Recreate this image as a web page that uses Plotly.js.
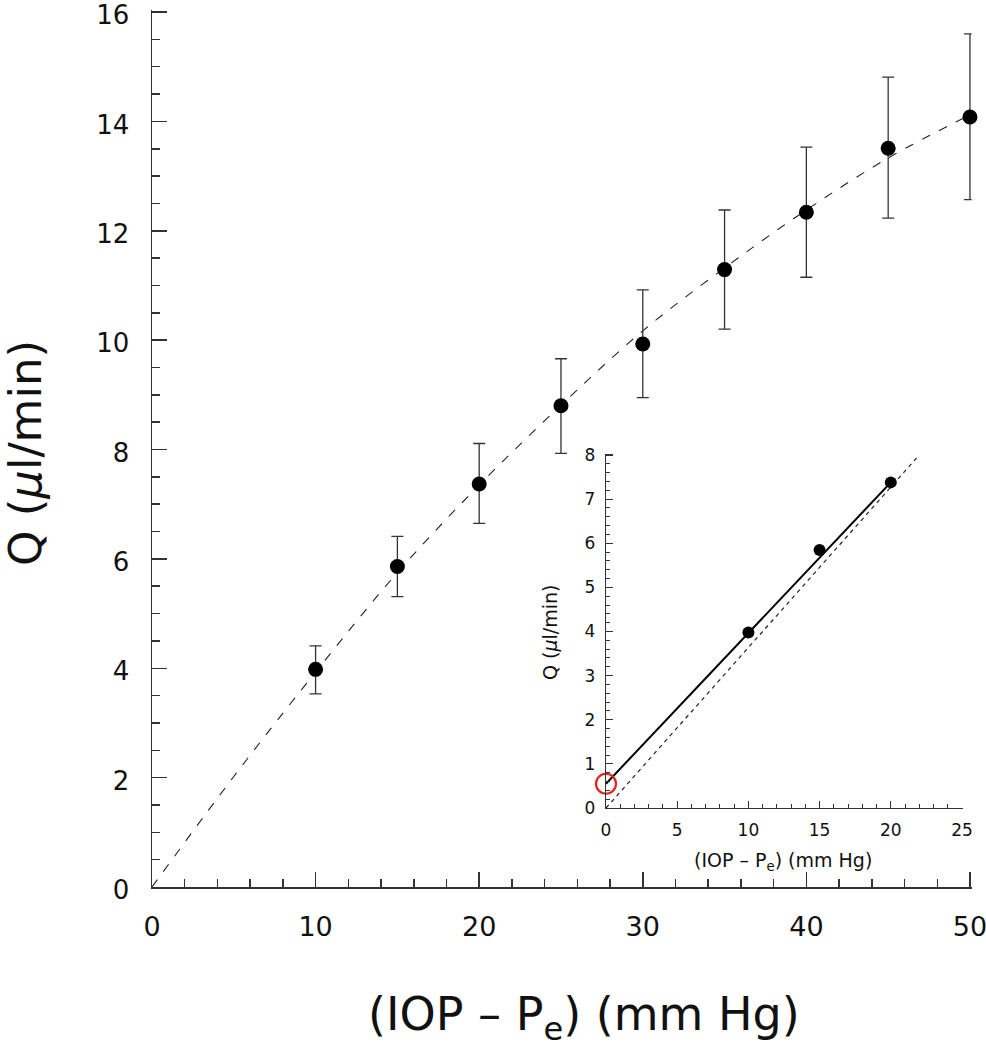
<!DOCTYPE html>
<html><head><meta charset="utf-8">
<script src="https://cdn.plot.ly/plotly-3.0.1.min.js"></script>
<style>html,body{margin:0;padding:0;background:#fff}</style>
</head><body><div id="chart" style="width:986px;height:1050px"></div>
<script>
// Main panel data
const pressure = [10, 15, 20, 25, 30, 35, 40, 45, 50];
const flow = [3.98, 5.86, 7.37, 8.80, 9.93, 11.29, 12.34, 13.51, 14.08];
const errUpper = [4.41, 6.41, 8.11, 9.66, 10.92, 12.38, 13.53, 14.81, 15.60];
const errLower = [3.53, 5.31, 6.65, 7.93, 8.95, 10.20, 11.15, 12.23, 12.57];
const fitX = [0, 5, 10, 15, 20, 25, 30, 35, 40, 45, 50];
const fitY = [0, 2.02, 3.93, 5.75, 7.35, 8.81, 10.17, 11.32, 12.38, 13.33, 14.12];
// Inset data
const insetX = [10, 15, 20];
const insetY = [3.98, 5.85, 7.38];
const linearFitX = [0, 20];
const linearFitY = [0.55, 7.38];
const proportionalX = [0, 22];
const proportionalY = [0, 8.0];
const interceptX = [0];
const interceptY = [0.55];

const W = 986, H = 1050;
const px = v => v / W;
const py = v => 1 - v / H;
const FONT = 'DejaVu Sans, sans-serif';
const AX = '#333';
const TXT = '#111';

const traces = [
  {x: fitX, y: fitY, mode: 'lines', line: {color: '#222', width: 1.1, dash: '9px,10px', shape: 'spline'},
   xaxis: 'x', yaxis: 'y', hoverinfo: 'skip', cliponaxis: false},
  {x: pressure, y: flow, mode: 'markers', marker: {color: '#000', size: 15},
   error_y: {type: 'data', symmetric: false,
     array: errUpper.map((u, i) => u - flow[i]),
     arrayminus: errLower.map((l, i) => flow[i] - l),
     color: '#333', thickness: 1.3, width: 6},
   xaxis: 'x', yaxis: 'y', cliponaxis: false},
  {x: proportionalX, y: proportionalY, mode: 'lines', line: {color: '#222', width: 1.2, dash: '4px,4px'},
   xaxis: 'x2', yaxis: 'y2', cliponaxis: false},
  {x: linearFitX, y: linearFitY, mode: 'lines', line: {color: '#000', width: 2},
   xaxis: 'x2', yaxis: 'y2', cliponaxis: false},
  {x: insetX, y: insetY, mode: 'markers', marker: {color: '#000', size: 12},
   xaxis: 'x2', yaxis: 'y2', cliponaxis: false},
  {x: interceptX, y: interceptY, mode: 'markers',
   marker: {color: 'rgba(0,0,0,0)', size: 20, line: {color: '#e8211d', width: 2.2}},
   xaxis: 'x2', yaxis: 'y2', cliponaxis: false}
];

function axisBase(extra) {
  return Object.assign({
    showgrid: false, zeroline: false, showline: true, linecolor: AX, linewidth: 1.5,
    ticks: 'inside', tickcolor: AX, tickwidth: 1.5, automargin: false, fixedrange: true,
    ticklabeloverflow: 'allow',
    tickfont: {family: FONT, color: TXT}
  }, extra);
}

const layout = {
  width: W, height: H,
  margin: {l: 0, r: 0, t: 0, b: 0},
  paper_bgcolor: '#fff', plot_bgcolor: 'rgba(0,0,0,0)',
  showlegend: false,
  font: {family: FONT, color: TXT},
  xaxis: axisBase({domain: [px(152), px(971.6)], range: [0, 50.1], anchor: 'y',
    tick0: 0, dtick: 10, ticklen: 15, tickfont: {family: FONT, size: 27, color: TXT},
    ticklabelstandoff: 15,
    minor: {ticks: 'inside', dtick: 2, ticklen: 8, tickcolor: AX, tickwidth: 1.5, showgrid: false}}),
  yaxis: axisBase({domain: [py(887), py(10.4)], range: [0, 16.03], anchor: 'x',
    tick0: 0, dtick: 2, ticklen: 15, tickfont: {family: FONT, size: 26, color: TXT},
    ticklabelstandoff: 16, ticklabelshift: 3,
    minor: {ticks: 'inside', dtick: 0.5, ticklen: 8, tickcolor: AX, tickwidth: 1.5, showgrid: false}}),
  xaxis2: axisBase({domain: [px(606), px(962.7)], range: [0, 25.05], anchor: 'y2',
    tick0: 0, dtick: 5, ticklen: 7, linewidth: 1.2, tickwidth: 1.2,
    tickfont: {family: FONT, size: 17, color: TXT}, ticklabelstandoff: 6,
    minor: {ticks: 'inside', dtick: 1, ticklen: 4, tickcolor: AX, tickwidth: 1, showgrid: false}}),
  yaxis2: axisBase({domain: [py(808), py(453.7)], range: [0, 8.03], anchor: 'x2',
    tick0: 0, dtick: 1, ticklen: 7, linewidth: 1.2, tickwidth: 1.2,
    tickfont: {family: FONT, size: 17, color: TXT}, ticklabelstandoff: 6,
    minor: {ticks: 'inside', dtick: 0.2, ticklen: 4, tickcolor: AX, tickwidth: 1, showgrid: false}}),
  annotations: [
    {text: '(IOP – P<sub>e</sub>) (mm Hg)', xref: 'paper', yref: 'paper', x: px(584), y: py(1017),
     xanchor: 'center', yanchor: 'middle', showarrow: false, font: {family: FONT, size: 46, color: TXT}},
    {text: 'Q (<i>μ</i>l/min)', xref: 'paper', yref: 'paper', x: px(25), y: py(453),
     xanchor: 'center', yanchor: 'middle', textangle: -90, showarrow: false, font: {family: FONT, size: 45, color: TXT}},
    {text: '(IOP – P<sub>e</sub>) (mm Hg)', xref: 'paper', yref: 'paper', x: px(783), y: py(861),
     xanchor: 'center', yanchor: 'middle', showarrow: false, font: {family: FONT, size: 19, color: TXT}},
    {text: 'Q (<i>μ</i>l/min)', xref: 'paper', yref: 'paper', x: px(550), y: py(633),
     xanchor: 'center', yanchor: 'middle', textangle: -90, showarrow: false, font: {family: FONT, size: 19, color: TXT}}
  ]
};

Plotly.newPlot('chart', traces, layout, {displayModeBar: false, staticPlot: true});
</script>
</body></html>
